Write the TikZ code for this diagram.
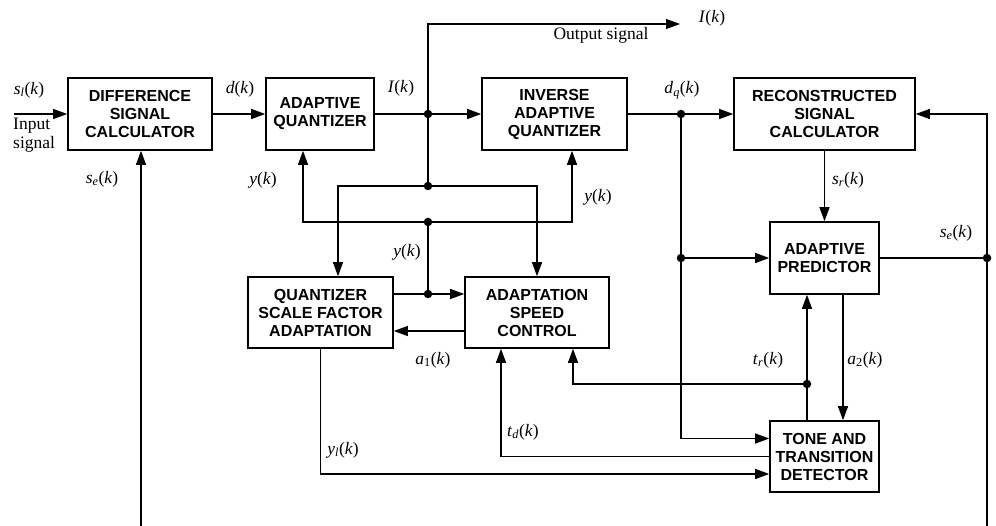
\documentclass[tikz,border=0pt]{standalone}
\usepackage{fontspec}
\setmainfont{Liberation Serif}
\newfontfamily\blockfont{Liberation Sans}
\usetikzlibrary{arrows.meta}
% signal name with italic subscript, e.g. s_l(k)
\newcommand\sg[2]{\textit{#1}\textsubscript{\textit{#2}}(\textit{k})}

\begin{document}
\begin{tikzpicture}[x=1pt,y=-1pt,
  blk/.style={draw, line width=1.6pt, align=center, inner sep=0pt,
    font=\blockfont\bfseries\fontsize{16}{18}\selectfont},
  lbl/.style={font=\fontsize{17.5}{19}\selectfont, inner sep=0pt},
  wire/.style={line width=1.2pt},
  arr/.style={wire, -{Triangle[length=14pt,width=10pt]}},
  dot/.style={circle, fill, inner sep=0pt, minimum size=8.5pt}]

\useasboundingbox (0,0) rectangle (996,526);

% ---------- blocks ----------
\node[blk, minimum width=144pt, minimum height=72pt] (dsc)  at (140,114)   {DIFFERENCE\\SIGNAL\\CALCULATOR};
\node[blk, minimum width=108pt, minimum height=72pt] (aq)   at (320,114)   {ADAPTIVE\\QUANTIZER};
\node[blk, minimum width=145pt, minimum height=72pt] (iaq)  at (554.5,114) {INVERSE\\ADAPTIVE\\QUANTIZER};
\node[blk, minimum width=181pt, minimum height=72pt] (rsc)  at (824.5,114) {RECONSTRUCTED\\SIGNAL\\CALCULATOR};
\node[blk, minimum width=109pt, minimum height=72pt] (ap)   at (824.5,258) {ADAPTIVE\\PREDICTOR};
\node[blk, minimum width=145pt, minimum height=71pt] (qsfa) at (320.5,312.5) {QUANTIZER\\SCALE FACTOR\\ADAPTATION};
\node[blk, minimum width=144pt, minimum height=71pt] (asc)  at (537,312.5)   {ADAPTATION\\SPEED\\CONTROL};
\node[blk, minimum width=109pt, minimum height=71pt] (ttd)  at (824.5,456.5) {TONE AND\\TRANSITION\\DETECTOR};

% ---------- junctions and free ends ----------
\coordinate (in)   at (14,114);
\coordinate (out)  at (680,24);
\coordinate (jI)   at (428,114);
\coordinate (jI2)  at (428,186);
\coordinate (jy)   at (428,222);
\coordinate (jy2)  at (428,294);
\coordinate (jdq)  at (681,114);
\coordinate (jdq2) at (681,258);
\coordinate (jse)  at (987,258);
\coordinate (jtr)  at (807,384);
\coordinate (bL)   at (141,526);
\coordinate (bR)   at (987,526);

% ---------- forward path ----------
\draw[arr] (in) -- (dsc.west);
\draw[arr] (dsc.east) -- (aq.west);
\draw[wire] (aq.east) -- (jI);
\draw[arr] (jI) -- (iaq.west);
\draw[arr] (jI) |- (out);
\draw[wire] (iaq.east) -- (jdq);
\draw[arr] (jdq) -- (rsc.west);
\draw[arr] (rsc.south) -- (ap.north);

% I(k) to the adaptation blocks
\draw[wire] (jI) -- (jI2);
\draw[arr] (jI2) -| ([xshift=17.5pt]qsfa.north);
\draw[arr] (jI2) -| (asc.north);

% scale factor y(k)
\draw[arr] (jy) -| ([xshift=-17pt]aq.south);
\draw[arr] (jy) -| ([xshift=17.5pt]iaq.south);
\draw[wire] (jy) -- (jy2);
\draw[wire] (qsfa.east |- jy2) -- (jy2);
\draw[arr] (jy2) -- (asc.west |- jy2);
\draw[arr] (asc.west |- 0,331) -- (qsfa.east |- 0,331);

% quantized difference d_q(k)
\draw[wire] (jdq) -- (jdq2);
\draw[arr] (jdq2) -- (ap.west);
\draw[arr] (jdq2) |- ([yshift=18pt]ttd.west);

% signal estimate s_e(k)
\draw[wire] (ap.east) -- (jse);
\draw[arr] (bR) |- (rsc.east);
\draw[arr] (bL) -- (dsc.south -| bL);

% predictor / detector links
\draw[arr] ([xshift=-17.5pt]ttd.north) -- ([xshift=-17.5pt]ap.south);
\draw[arr] ([xshift=18.5pt]ap.south) -- ([xshift=18.5pt]ttd.north);
\draw[arr] (jtr) -| ([xshift=36pt]asc.south);
\draw[arr] (ttd.west) -| ([xshift=-36pt]asc.south);
\draw[arr] (qsfa.south) |- ([yshift=-17.5pt]ttd.west);

% dots
\foreach \p in {jI,jI2,jy,jy2,jdq,jdq2,jse,jtr} \node[dot] at (\p) {};

% ---------- labels ----------
\node[lbl] (l1)  at (29,90)   {\sg{s}{l}};
\node[lbl, anchor=west, align=left, font=\fontsize{17.5}{19}\selectfont] (l2) at (13,135) {Input\\signal};
\node[lbl] (l3)  at (240,89)  {\textit{d}(\textit{k})};
\node[lbl] (l4)  at (401,88)  {\textit{I}(\textit{k})};
\node[lbl] (l5)  at (601,35)  {Output signal};
\node[lbl] (l6)  at (712,18)  {\textit{I}(\textit{k})};
\node[lbl] (l7)  at (682,90)  {\sg{d}{q}};
\node[lbl] (l8)  at (102,179) {\sg{s}{e}};
\node[lbl] (l9)  at (263,180) {\textit{y}(\textit{k})};
\node[lbl] (l10) at (598,197) {\textit{y}(\textit{k})};
\node[lbl] (l11) at (407,252) {\textit{y}(\textit{k})};
\node[lbl] (l12) at (848,180) {\sg{s}{r}};
\node[lbl] (l13) at (956,233) {\sg{s}{e}};
\node[lbl] (l14) at (433,360) {\textit{a}\textsubscript{1}(\textit{k})};
\node[lbl] (l15) at (768,360) {\sg{t}{r}};
\node[lbl] (l16) at (865,360) {\textit{a}\textsubscript{2}(\textit{k})};
\node[lbl] (l17) at (523,432) {\sg{t}{d}};
\node[lbl] (l18) at (343,450) {\sg{y}{l}};
\end{tikzpicture}
\end{document}
